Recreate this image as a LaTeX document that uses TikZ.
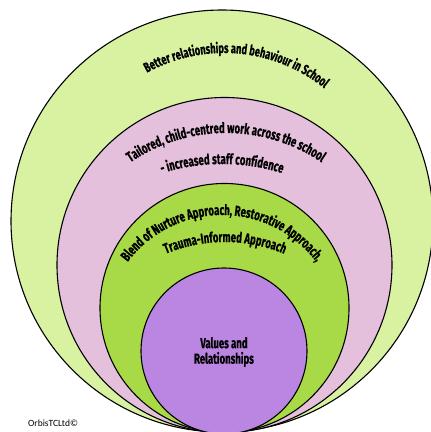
\documentclass[tikz,border=0pt]{standalone}
\usepackage{fontspec}
\usetikzlibrary{decorations.text}
\newfontfamily\ringfont[FakeStretch=0.66,BoldFeatures={FakeBold=0.6}]{Fira Sans}
\newfontfamily\creditfont{Carlito}
\newcommand\ringlabel{\ringfont\bfseries\fontsize{14.5}{14.5}\selectfont}
\definecolor{outerring}{HTML}{D8F2A2}
\definecolor{middlering}{HTML}{E4C0DD}
\definecolor{innerring}{HTML}{A8DA47}
\definecolor{corering}{HTML}{BB86E2}

\begin{document}
\begin{tikzpicture}[x=1pt,y=1pt,
    ring/.style={circle,draw=black,line width=1.1pt,inner sep=0pt}]
  \useasboundingbox (0,0) rectangle (431,432);
  % rings, from the outside in
  \node[ring,fill=outerring,minimum size=422pt]  (outer)  at (222,211)   {};
  \node[ring,fill=middlering,minimum size=335pt] (middle) at (224.5,167) {};
  \node[ring,fill=innerring,minimum size=249pt]  (inner)  at (224.5,124) {};
  \node[ring,fill=corering,minimum size=166pt]   (core)   at (224,81)    {};
  % centres of the curved labels
  \coordinate (outerarc)   at (224,219);
  \coordinate (middlearcA) at (226,129);
  \coordinate (middlearcB) at (222,68);
  \coordinate (innerarcA)  at (222,99);
  \coordinate (innerarcB)  at (225,37);
  \path[decorate,decoration={text along path,text align=center,
      text={|\ringfont\bfseries\fontsize{14}{14}\selectfont|Better relationships and behaviour in School}}]
    (outerarc) ++(155:160pt) arc[start angle=155,end angle=15,radius=160pt];
  \path[decorate,decoration={text along path,text align=center,
      text={|\ringlabel|Tailored, child-centred work across the school}}]
    (middlearcA) ++(160:170pt) arc[start angle=160,end angle=20,radius=170pt];
  \path[decorate,decoration={text along path,text align=center,
      text={|\ringlabel|- increased staff confidence}}]
    (middlearcB) ++(120:200pt) arc[start angle=120,end angle=60,radius=200pt];
  \path[decorate,decoration={text along path,text align=center,
      text={|\ringlabel|Blend of Nurture Approach, Restorative Approach,}}]
    (innerarcA) ++(175:118pt) arc[start angle=175,end angle=5,radius=118pt];
  \path[decorate,decoration={text along path,text align=center,
      text={|\ringlabel|Trauma-Informed Approach}}]
    (innerarcB) ++(130:153pt) arc[start angle=130,end angle=50,radius=153pt];
  \node[align=center,font=\ringfont\bfseries\fontsize{14.5}{15.5}\selectfont]
    (values) at (224,80) {Values and\\Relationships};
  \node[anchor=west,font=\creditfont\fontsize{9.5}{10}\selectfont,inner sep=0pt]
    (credit) at (28,8.5) {OrbisTCLtd©};
\end{tikzpicture}
\end{document}
